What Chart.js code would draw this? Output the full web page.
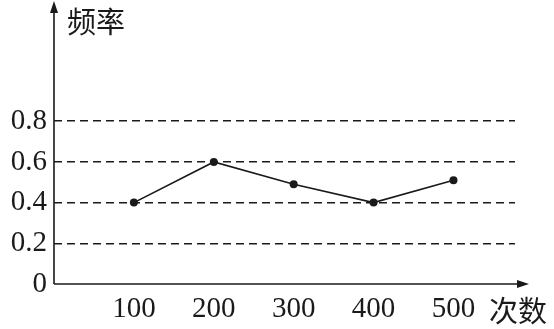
<!DOCTYPE html>
<html>
<head>
<meta charset="utf-8">
<script src="https://cdn.jsdelivr.net/npm/chart.js@4/dist/chart.umd.min.js"></script>
<style>
  html, body { margin: 0; padding: 0; background: #fff; }
  #wrap { width: 554px; height: 329px; }
</style>
</head>
<body>
<div id="wrap"><canvas id="freq"></canvas></div>
<script>
// values
var trials = [100, 200, 300, 400, 500];
var freqs = [0.4, 0.6, 0.49, 0.4, 0.51];
var yTicks = [0, 0.2, 0.4, 0.6, 0.8];
var yTitle = "频率";
var xTitle = "次数";

var ink = "#1a1a1a";

// draw the two axes with arrow heads plus the axis names
var arrowAxes = {
    id: "arrowAxes",
    afterDraw: function (chart) {
        var c = chart.ctx;
        var a = chart.chartArea;
        c.save();
        c.strokeStyle = ink;
        c.fillStyle = ink;
        c.lineWidth = 1.6;
        c.beginPath();
        c.moveTo(a.left, a.bottom);
        c.lineTo(a.left, 8);
        c.moveTo(a.left, a.bottom);
        c.lineTo(524, a.bottom);
        c.stroke();
        // arrow heads
        c.beginPath();
        c.moveTo(a.left, 1);
        c.lineTo(a.left - 4, 13);
        c.lineTo(a.left + 4, 13);
        c.closePath();
        c.fill();
        c.beginPath();
        c.moveTo(529, a.bottom);
        c.lineTo(517, a.bottom - 4);
        c.lineTo(517, a.bottom + 4);
        c.closePath();
        c.fill();
        // axis names
        c.font = "29px 'Noto Sans CJK SC'";
        c.textBaseline = "middle";
        c.textAlign = "left";
        c.fillText(yTitle, 67, 22);
        c.fillText(xTitle, 489, 311);
        c.restore();
    }
};

var ctx = document.getElementById("freq").getContext("2d");
new Chart(ctx, {
    type: "line",
    data: {
        datasets: [{
            data: trials.map(function (t, i) { return { x: t, y: freqs[i] }; }),
            borderColor: ink,
            borderWidth: 1.6,
            pointRadius: 4,
            pointBackgroundColor: ink,
            pointBorderWidth: 0,
            tension: 0
        }]
    },
    options: {
        responsive: true,
        maintainAspectRatio: false,
        animation: false,
        layout: { padding: { left: 0, right: 39, top: 0, bottom: 0 } },
        plugins: {
            legend: { display: false },
            tooltip: { enabled: false }
        },
        scales: {
            x: {
                type: "linear",
                min: 0,
                max: 577,
                afterBuildTicks: function (scale) {
                    scale.ticks = trials.map(function (v) { return { value: v }; });
                },
                afterFit: function (scale) { scale.height = 45; },
                grid: { display: false, drawTicks: false },
                border: { display: false },
                ticks: {
                    color: ink,
                    padding: 8,
                    maxRotation: 0,
                    font: { family: "'Liberation Serif'", size: 29 }
                }
            },
            y: {
                min: 0,
                max: 1.276,
                afterBuildTicks: function (scale) {
                    scale.ticks = yTicks.map(function (v) { return { value: v }; });
                },
                afterFit: function (scale) { scale.width = 54; },
                grid: {
                    drawTicks: false,
                    lineWidth: 1.6,
                    color: function (c) { return c.tick && c.tick.value === 0 ? "rgba(0,0,0,0)" : ink; }
                },
                border: { display: false, dash: [8, 5] },
                ticks: {
                    color: ink,
                    padding: 7,
                    font: { family: "'Liberation Serif'", size: 29 },
                    callback: function (v) { return v === 0 ? "0" : v.toFixed(1); }
                }
            }
        }
    },
    plugins: [arrowAxes]
});
</script>
</body>
</html>
